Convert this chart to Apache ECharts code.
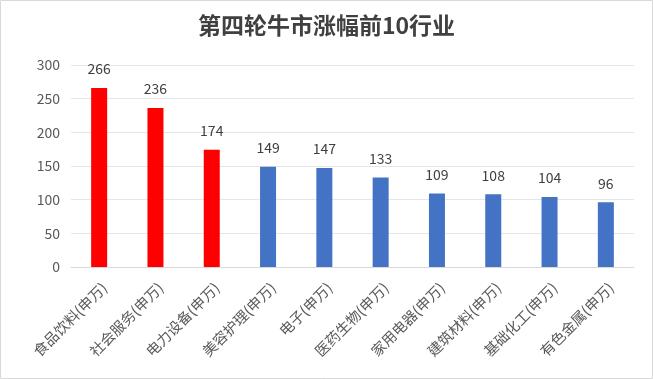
<!DOCTYPE html>
<html><head><meta charset="utf-8">
<script src="https://cdn.jsdelivr.net/npm/echarts@6/dist/echarts.min.js"></script>
<style>html,body{margin:0;padding:0;background:#fff}#c{width:653px;height:379px}</style>
</head><body><div id="c"></div>
<script>
const categories = ['食品饮料(申万)','社会服务(申万)','电力设备(申万)','美容护理(申万)','电子(申万)','医药生物(申万)','家用电器(申万)','建筑材料(申万)','基础化工(申万)','有色金属(申万)'];
const values = [266, 236, 174, 149, 147, 133, 109, 108, 104, 96];
const highlightCount = 3;
const yTicks = [0, 50, 100, 150, 200, 250, 300];
const titleText = '第四轮牛市涨幅前10行业';

const FONT = '"Noto Sans CJK SC","Microsoft YaHei",sans-serif';
const chart = echarts.init(document.getElementById('c'), null, {renderer:'canvas'});
chart.setOption({
  animation:false,
  backgroundColor:'#fff',
  title:{text:titleText,left:'center',top:9,textStyle:{fontFamily:FONT,fontSize:23,fontWeight:'bold',color:'#404040'}},
  graphic:[{type:'rect',shape:{x:0.5,y:0.5,width:652,height:378},style:{fill:'none',stroke:'#d9d9d9',lineWidth:1},silent:true}],
  grid:{left:71,right:19,top:65,bottom:112},
  xAxis:{type:'category',data:categories,
    axisLine:{lineStyle:{color:'#d9d9d9'}},axisTick:{show:false},
    axisLabel:{rotate:45,interval:0,fontFamily:FONT,fontSize:14.5,color:'#595959',margin:13,verticalAlign:'top'}},
  yAxis:{type:'value',min:yTicks[0],max:yTicks[yTicks.length-1],interval:50,
    axisLine:{show:false},axisTick:{show:false},
    splitLine:{lineStyle:{color:'#e6e6e6'}},
    axisLabel:{fontFamily:FONT,fontSize:14,color:'#595959',margin:11}},
  series:[{type:'bar',barWidth:16,
    data:values.map((v,i)=>({value:v,itemStyle:{color:i<highlightCount?'#ff0000':'#4472c4'}})),
    label:{show:true,position:'top',distance:12,fontFamily:FONT,fontSize:14,color:'#404040'}}]
});
</script></body></html>
